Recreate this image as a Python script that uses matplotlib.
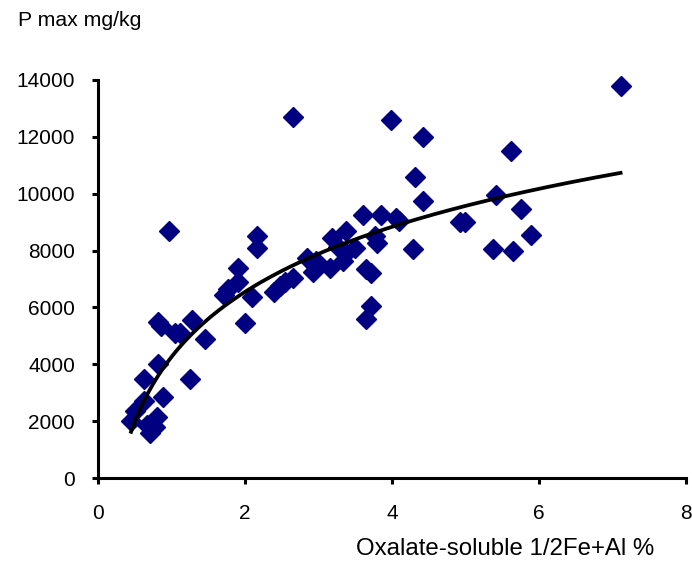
import numpy as np
import matplotlib
matplotlib.use("Agg")
import matplotlib.pyplot as plt

plt.rcParams['font.family'] = ['Liberation Sans', 'DejaVu Sans']

# oxalate-soluble 1/2Fe+Al (%) and P max (mg/kg)
fe_al = [0.45, 0.50, 0.62, 0.66, 0.71, 0.78, 0.80, 0.88, 0.63, 0.82,
         0.82, 0.86, 1.05, 1.11, 1.28, 1.46, 1.25, 0.97, 1.71, 1.77,
         1.90, 1.91, 2.00, 2.10, 2.16, 2.16, 2.40, 2.48, 2.55, 2.65,
         2.65, 2.84, 2.93, 2.97, 3.16, 3.18, 3.27, 3.34, 3.38, 3.38,
         3.50, 3.60, 3.65, 3.72, 3.71, 3.65, 3.77, 3.80, 3.85, 3.99,
         4.06, 4.10, 4.28, 4.31, 4.42, 4.42, 4.93, 4.99, 5.37, 5.42,
         5.62, 5.64, 5.75, 5.89, 7.11]
p_max = [2000, 2350, 2700, 1850, 1600, 1800, 2150, 2850, 3500, 4000,
         5480, 5330, 5100, 5100, 5550, 4900, 3500, 8700, 6450, 6650,
         6880, 7380, 5460, 6380, 8100, 8500, 6550, 6750, 6900, 7050,
         12700, 7730, 7250, 7620, 7380, 8430, 8140, 7620, 7900, 8700,
         8080, 9250, 7350, 7200, 6050, 5580, 8500, 8250, 9250, 12600,
         9130, 9050, 8050, 10600, 9750, 12000, 9000, 9000, 8050, 9950,
         11500, 8000, 9450, 8550, 13800]

# logarithmic trendline y = a*ln(x) + b, coefficients
trend_a = 3300
trend_b = 4260

x_ticks = [0, 2, 4, 6, 8]
y_ticks = [0, 2000, 4000, 6000, 8000, 10000, 12000, 14000]

x = np.array(fe_al)
y = np.array(p_max)

xf = np.linspace(x.min(), x.max(), 200)
yf = trend_a * np.log(xf) + trend_b

fig = plt.figure(figsize=(6.92, 5.61), dpi=100)
ax = fig.add_axes([98 / 692, 1 - 478 / 561, 588 / 692, 398 / 561])

ax.plot(x, y, 'D', color='#000080', markeredgecolor='#000080', ms=10, clip_on=False)
ax.plot(xf, yf, color='black', lw=2.7)

ax.set_xlim(0, 8)
ax.set_ylim(0, 14000)
ax.set_xticks(x_ticks)
ax.set_yticks(y_ticks)
ax.spines['top'].set_visible(False)
ax.spines['right'].set_visible(False)
for s in ['left', 'bottom']:
    ax.spines[s].set_linewidth(2.2)
ax.tick_params(axis='both', direction='out', length=4.5, width=2.2, labelsize=15)
ax.tick_params(axis='y', pad=12)
ax.tick_params(axis='x', pad=14)

fig.text(18 / 692, 1 - 20 / 561, 'P max mg/kg', fontsize=15.3, ha='left', va='center')
fig.text(654 / 692, 1 - 549 / 561, 'Oxalate-soluble 1/2Fe+Al %', fontsize=17.3,
         ha='right', va='center')

fig.savefig('out.png', dpi=100)
